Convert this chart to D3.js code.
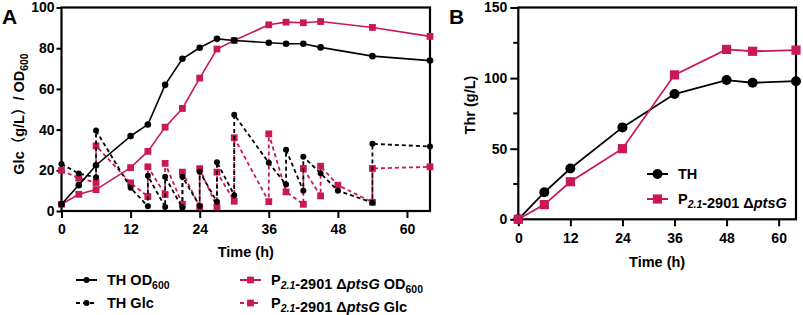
<!DOCTYPE html>
<html>
<head>
<meta charset="utf-8">
<script src="https://cdn.jsdelivr.net/npm/d3@7"></script>
<style>
  html, body { margin: 0; padding: 0; background: #fff; }
  text { font-family: "Liberation Sans", Arial, "Noto Sans CJK SC", sans-serif; font-weight: bold; }
</style>
</head>
<body>
<div id="container"></div>
<script>
// ---- data ----
// panel A: OD600 and residual glucose during fed-batch fermentation
const odTime = [0, 3, 6, 12, 15, 18, 21, 24, 27, 30, 36, 39, 42, 45, 54, 64];
const thOD = [3.3, 12.7, 22.5, 36.8, 42.5, 62, 74.8, 80.2, 84.6, 83.8, 82.7, 82.2, 82.2, 80.4, 76.1, 73.9];
const pkOD = [3.3, 8.2, 10.5, 21.3, 29.3, 41.2, 50.4, 65.3, 79.6, 83.8, 91.5, 92.8, 92.5, 93.1, 90.2, 85.8];

// glucose: at feeding times there are two samples (before / after feeding)
const thGlcTime = [0, 3, 6, 6, 12, 15, 15, 18, 18, 21, 21, 24, 24, 27, 27, 30, 30, 36, 39, 39, 42, 42, 45, 48, 54, 54, 64];
const thGlc = [23.1, 18.4, 16.6, 39.5, 11.4, 2.3, 17.3, 2.0, 16.8, 1.5, 16.8, 2.5, 19.3, 4.5, 24, 7.8, 47.3, 23.7, 13, 30.1, 9.9, 26.7, 18.5, 10, 4.1, 33, 31.7];
const pkGlcTime = [0, 3, 6, 6, 12, 15, 15, 18, 18, 21, 21, 24, 24, 27, 27, 30, 30, 36, 36, 39, 42, 42, 45, 45, 48, 54, 54, 64];
const pkGlc = [20, 16.1, 14, 32, 13.8, 7.1, 21.7, 8.1, 23.4, 3.3, 19.1, 2, 20.8, 2, 19.1, 4.8, 36, 4.6, 37.9, 9.4, 3.3, 20.9, 7.4, 22, 12.7, 4.3, 20.9, 21.7];

// panel B: threonine titre
const thrTime = [0, 6, 12, 24, 36, 48, 54, 64];
const thThr = [0, 19.1, 36, 65.1, 88.7, 98.6, 96.7, 97.8];
const pkThr = [0, 10.4, 26.6, 50, 102.3, 120.3, 119, 119.8];

// ticks
const xTicks = [0, 12, 24, 36, 48, 60];
const yTicksA = [0, 20, 40, 60, 80, 100];
const yTicksB = [0, 50, 100, 150];
const yMinorB = [25, 75, 125];

const pink = "#c8185a";
const width = 803, height = 315;

const svg = d3.select("#container").append("svg")
  .attr("width", width).attr("height", height)
  .attr("viewBox", [0, 0, width, height]);

// panel scales
const xA = d3.scaleLinear([0, 64], [61.5, 430]);
const yA = d3.scaleLinear([0, 100], [211, 7.5]);
const xB = d3.scaleLinear([0, 64], [518.3, 796]);
const yB = d3.scaleLinear([0, 150], [219.3, 7.5]);

// axes + closed box, Prism style
function drawFrame(x, y, yTicks, xPad, yTickLen, yPad) {
  const [x0, x1] = x.range();
  const [y0, y1] = y.range();
  svg.append("g")
    .attr("transform", `translate(0,${y0})`)
    .call(d3.axisBottom(x).tickValues(xTicks).tickSize(7).tickPadding(xPad))
    .call(g => g.select(".domain").remove())
    .call(g => g.selectAll("line").attr("stroke-width", 2))
    .call(g => g.selectAll("text").attr("font-size", 14).attr("fill", "#000"));
  svg.append("g")
    .attr("transform", `translate(${x0},0)`)
    .call(d3.axisLeft(y).tickValues(yTicks).tickSize(yTickLen).tickPadding(yPad))
    .call(g => g.select(".domain").remove())
    .call(g => g.selectAll("line").attr("stroke-width", 2))
    .call(g => g.selectAll("text").attr("font-size", 14).attr("fill", "#000"));
  svg.append("rect")
    .attr("x", x0).attr("y", y1)
    .attr("width", x1 - x0).attr("height", y0 - y1)
    .attr("fill", "none").attr("stroke", "#000").attr("stroke-width", 2.2);
}

drawFrame(xA, yA, yTicksA, 6, 5, 2);
drawFrame(xB, yB, yTicksB, 7, 8, 3);

// minor ticks on panel B y axis
svg.append("g").selectAll("line").data(yMinorB).join("line")
  .attr("x1", xB.range()[0] - 5).attr("x2", xB.range()[0])
  .attr("y1", d => yB(d)).attr("y2", d => yB(d))
  .attr("stroke", "#000").attr("stroke-width", 2);

// one line + markers
function series(x, y, T, V, { color, dash = null, shape = "circle", size = 3.5, lw = 1.6 }) {
  const I = d3.range(T.length);
  const line = d3.line().x(i => x(T[i])).y(i => y(V[i]));
  svg.append("path")
    .attr("fill", "none").attr("stroke", color).attr("stroke-width", lw)
    .attr("stroke-dasharray", dash)
    .attr("d", line(I));
  const g = svg.append("g").attr("fill", color);
  if (shape === "circle") {
    g.selectAll("circle").data(I).join("circle")
      .attr("cx", i => x(T[i])).attr("cy", i => y(V[i])).attr("r", size);
  } else {
    g.selectAll("rect").data(I).join("rect")
      .attr("x", i => x(T[i]) - size).attr("y", i => y(V[i]) - size)
      .attr("width", size * 2).attr("height", size * 2);
  }
}

// panel A
series(xA, yA, pkGlcTime, pkGlc, { color: pink, dash: "4,3", shape: "square", size: 3.4, lw: 1.8 });
series(xA, yA, thGlcTime, thGlc, { color: "#000", dash: "4,3", shape: "circle", size: 3, lw: 1.8 });
series(xA, yA, odTime, pkOD, { color: pink, shape: "square", size: 3.4 });
series(xA, yA, odTime, thOD, { color: "#000", shape: "circle", size: 3.3 });

// panel B
series(xB, yB, thrTime, thThr, { color: "#000", shape: "circle", size: 5, lw: 1.8 });
series(xB, yB, thrTime, pkThr, { color: pink, shape: "square", size: 4.6, lw: 1.8 });

// ---- text ----
function sub(t, s, italic) {
  t.append("tspan").attr("font-size", "0.72em").attr("dy", 4)
    .attr("font-style", italic ? "italic" : null).text(s);
  t.append("tspan").attr("dy", -4).text("");
}
function strainLabel(t, tail) {
  t.append("tspan").text("P");
  sub(t, "2.1", true);
  t.append("tspan").text("-2901 Δ");
  t.append("tspan").attr("font-style", "italic").text("ptsG");
  if (tail) t.append("tspan").text(tail);
}

// panel letters
svg.append("text").attr("x", 2).attr("y", 24).attr("font-size", 21).text("A");
svg.append("text").attr("x", 449).attr("y", 24).attr("font-size", 21).text("B");

// axis titles
const yTitleA = svg.append("text").attr("font-size", 14.5).attr("text-anchor", "middle")
  .attr("transform", "translate(24,114) rotate(-90)");
yTitleA.append("tspan").text("Glc（g/L）/ OD");
sub(yTitleA, "600");

svg.append("text").attr("font-size", 14.5).attr("text-anchor", "middle")
  .attr("transform", "translate(475,105) rotate(-90)").text("Thr (g/L)");

svg.append("text").attr("x", (xA.range()[0] + xA.range()[1]) / 2).attr("y", 257)
  .attr("font-size", 14.5).attr("text-anchor", "middle").text("Time (h)");
svg.append("text").attr("x", (xB.range()[0] + xB.range()[1]) / 2).attr("y", 267)
  .attr("font-size", 14.5).attr("text-anchor", "middle").text("Time (h)");

// legends
function legendItem(x, y, color, dash, shape, size, lw, labelFn) {
  svg.append("line").attr("x1", x).attr("x2", x + 21).attr("y1", y).attr("y2", y)
    .attr("stroke", color).attr("stroke-width", lw).attr("stroke-dasharray", dash);
  if (shape === "circle") {
    svg.append("circle").attr("cx", x + 10.5).attr("cy", y).attr("r", size).attr("fill", color);
  } else {
    svg.append("rect").attr("x", x + 10.5 - size).attr("y", y - size)
      .attr("width", size * 2).attr("height", size * 2).attr("fill", color);
  }
  const t = svg.append("text").attr("x", x + 31).attr("y", y + 5).attr("font-size", 14.5);
  labelFn(t);
}

legendItem(76, 280, "#000", null, "circle", 3, 2, t => { t.append("tspan").text("TH OD"); sub(t, "600"); });
legendItem(76, 303, "#000", "4,3", "circle", 3, 2, t => t.append("tspan").text("TH Glc"));
legendItem(240, 280, pink, null, "square", 3.4, 2, t => { strainLabel(t, " OD"); sub(t, "600"); });
legendItem(240, 303, pink, "4,3", "square", 3.4, 2, t => strainLabel(t, " Glc"));

legendItem(647, 174, "#000", null, "circle", 5, 2, t => t.append("tspan").text("TH"));
legendItem(647, 199, pink, null, "square", 4.6, 2, t => strainLabel(t, ""));
</script>
</body>
</html>
